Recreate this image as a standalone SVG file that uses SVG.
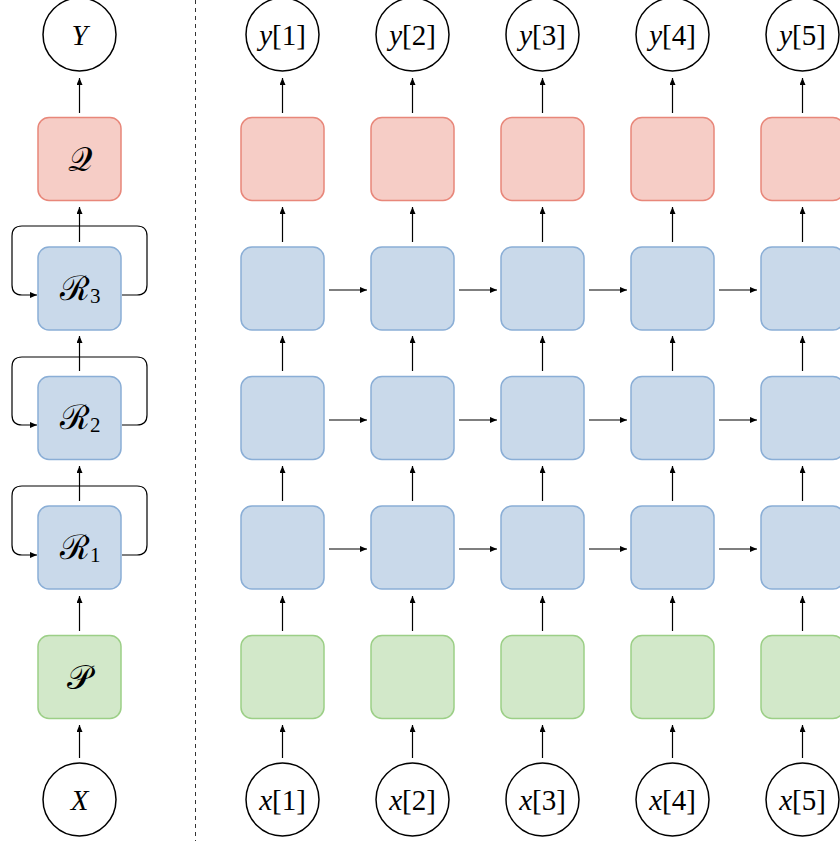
<svg xmlns="http://www.w3.org/2000/svg" width="840" height="841" viewBox="0 0 840 841">
<defs>
<marker id="ah" markerWidth="8" markerHeight="6" refX="7" refY="3" orient="auto" markerUnits="userSpaceOnUse">
<path d="M0,0 L7,3 L0,6 Z" fill="#000"/>
</marker>
<style>
.q{fill:#f6cdc6;stroke:#e8877a;stroke-width:1.5}
.r{fill:#c9d9ea;stroke:#8aaed6;stroke-width:1.5}
.p{fill:#d2e8c9;stroke:#9ccf87;stroke-width:1.5}
.c{fill:#fff;stroke:#000;stroke-width:1.5}
.e{stroke:#000;stroke-width:1.2;fill:none;marker-end:url(#ah)}
.t{font-size:29px;text-anchor:middle;fill:#000}
.s{font-size:34px;fill:#000;font-weight:normal}
.i{font-style:italic}
</style>
</defs>
<line x1="195.5" y1="0" x2="195.5" y2="841" stroke="#333" stroke-width="1" stroke-dasharray="4,4"/>

<g id="connectors">
<line class="e" x1="79.5" y1="113" x2="79.5" y2="78"/>
<line class="e" x1="79.5" y1="242" x2="79.5" y2="207"/>
<line class="e" x1="79.5" y1="371" x2="79.5" y2="336"/>
<line class="e" x1="79.5" y1="501" x2="79.5" y2="466"/>
<line class="e" x1="79.5" y1="631" x2="79.5" y2="596"/>
<line class="e" x1="79.5" y1="758" x2="79.5" y2="725"/>
<path class="e" d="M122,295 L137,295 Q147,295 147,285 L147,236 Q147,226 137,226 L22,226 Q12,226 12,236 L12,285 Q12,295 22,295 L37,295"/>
<path class="e" d="M122,425 L137,425 Q147,425 147,415 L147,367 Q147,357 137,357 L22,357 Q12,357 12,367 L12,415 Q12,425 22,425 L37,425"/>
<path class="e" d="M122,555 L137,555 Q147,555 147,545 L147,496 Q147,486 137,486 L22,486 Q12,486 12,496 L12,545 Q12,555 22,555 L37,555"/>
<g id="v1">
<line class="e" x1="282.5" y1="113" x2="282.5" y2="78"/>
<line class="e" x1="282.5" y1="242" x2="282.5" y2="207"/>
<line class="e" x1="282.5" y1="371" x2="282.5" y2="336"/>
<line class="e" x1="282.5" y1="501" x2="282.5" y2="466"/>
<line class="e" x1="282.5" y1="631" x2="282.5" y2="596"/>
<line class="e" x1="282.5" y1="758" x2="282.5" y2="725"/>
</g>
<use href="#v1" x="130"/>
<use href="#v1" x="260"/>
<use href="#v1" x="390"/>
<use href="#v1" x="520"/>
<g id="h1">
<line class="e" x1="329" y1="290" x2="367" y2="290"/>
<line class="e" x1="329" y1="420" x2="367" y2="420"/>
<line class="e" x1="329" y1="549" x2="367" y2="549"/>
</g>
<use href="#h1" x="130"/>
<use href="#h1" x="260"/>
<use href="#h1" x="390"/>
</g>

<g font-family="Liberation Serif, DejaVu Serif, serif">
<g id="Y"><circle class="c" cx="79.5" cy="34.5" r="36.5"/><text class="t i" x="79.5" y="45">Y</text></g>
<g id="Q"><rect class="q" x="38" y="117.5" width="83" height="83" rx="11"/><text class="s" x="79.5" y="171" text-anchor="middle">𝒬</text></g>
<g id="R3"><rect class="r" x="38" y="247" width="83" height="83" rx="11"/><text class="s" x="60" y="300">ℛ<tspan font-size="21" dy="3">3</tspan></text></g>
<g id="R2"><rect class="r" x="38" y="376.5" width="83" height="83" rx="11"/><text class="s" x="60" y="429">ℛ<tspan font-size="21" dy="3">2</tspan></text></g>
<g id="R1"><rect class="r" x="38" y="506" width="83" height="83" rx="11"/><text class="s" x="60" y="559">ℛ<tspan font-size="21" dy="3">1</tspan></text></g>
<g id="P"><rect class="p" x="38" y="635.5" width="83" height="83" rx="11"/><text class="s" x="79.5" y="689" text-anchor="middle">𝒫</text></g>
<g id="X"><circle class="c" cx="79.5" cy="799.5" r="36.5"/><text class="t i" x="79.5" y="810">X</text></g>

<g id="col1">
<g id="y1"><circle class="c" cx="282.5" cy="34.5" r="36.5"/><text class="t" x="282.5" y="45"><tspan class="i">y</tspan>[1]</text></g>
<rect class="q" x="241" y="117.5" width="83" height="83" rx="11"/>
<rect class="r" x="241" y="247" width="83" height="83" rx="11"/>
<rect class="r" x="241" y="376.5" width="83" height="83" rx="11"/>
<rect class="r" x="241" y="506" width="83" height="83" rx="11"/>
<rect class="p" x="241" y="635.5" width="83" height="83" rx="11"/>
<g id="x1"><circle class="c" cx="282.5" cy="799.5" r="36.5"/><text class="t" x="282.5" y="810"><tspan class="i">x</tspan>[1]</text></g>
</g>
<g id="col2">
<g id="y2"><circle class="c" cx="412.5" cy="34.5" r="36.5"/><text class="t" x="412.5" y="45"><tspan class="i">y</tspan>[2]</text></g>
<rect class="q" x="371" y="117.5" width="83" height="83" rx="11"/>
<rect class="r" x="371" y="247" width="83" height="83" rx="11"/>
<rect class="r" x="371" y="376.5" width="83" height="83" rx="11"/>
<rect class="r" x="371" y="506" width="83" height="83" rx="11"/>
<rect class="p" x="371" y="635.5" width="83" height="83" rx="11"/>
<g id="x2"><circle class="c" cx="412.5" cy="799.5" r="36.5"/><text class="t" x="412.5" y="810"><tspan class="i">x</tspan>[2]</text></g>
</g>
<g id="col3">
<g id="y3"><circle class="c" cx="542.5" cy="34.5" r="36.5"/><text class="t" x="542.5" y="45"><tspan class="i">y</tspan>[3]</text></g>
<rect class="q" x="501" y="117.5" width="83" height="83" rx="11"/>
<rect class="r" x="501" y="247" width="83" height="83" rx="11"/>
<rect class="r" x="501" y="376.5" width="83" height="83" rx="11"/>
<rect class="r" x="501" y="506" width="83" height="83" rx="11"/>
<rect class="p" x="501" y="635.5" width="83" height="83" rx="11"/>
<g id="x3"><circle class="c" cx="542.5" cy="799.5" r="36.5"/><text class="t" x="542.5" y="810"><tspan class="i">x</tspan>[3]</text></g>
</g>
<g id="col4">
<g id="y4"><circle class="c" cx="672.5" cy="34.5" r="36.5"/><text class="t" x="672.5" y="45"><tspan class="i">y</tspan>[4]</text></g>
<rect class="q" x="631" y="117.5" width="83" height="83" rx="11"/>
<rect class="r" x="631" y="247" width="83" height="83" rx="11"/>
<rect class="r" x="631" y="376.5" width="83" height="83" rx="11"/>
<rect class="r" x="631" y="506" width="83" height="83" rx="11"/>
<rect class="p" x="631" y="635.5" width="83" height="83" rx="11"/>
<g id="x4"><circle class="c" cx="672.5" cy="799.5" r="36.5"/><text class="t" x="672.5" y="810"><tspan class="i">x</tspan>[4]</text></g>
</g>
<g id="col5">
<g id="y5"><circle class="c" cx="802.5" cy="34.5" r="36.5"/><text class="t" x="802.5" y="45"><tspan class="i">y</tspan>[5]</text></g>
<rect class="q" x="761" y="117.5" width="83" height="83" rx="11"/>
<rect class="r" x="761" y="247" width="83" height="83" rx="11"/>
<rect class="r" x="761" y="376.5" width="83" height="83" rx="11"/>
<rect class="r" x="761" y="506" width="83" height="83" rx="11"/>
<rect class="p" x="761" y="635.5" width="83" height="83" rx="11"/>
<g id="x5"><circle class="c" cx="802.5" cy="799.5" r="36.5"/><text class="t" x="802.5" y="810"><tspan class="i">x</tspan>[5]</text></g>
</g>
</g>
</svg>
